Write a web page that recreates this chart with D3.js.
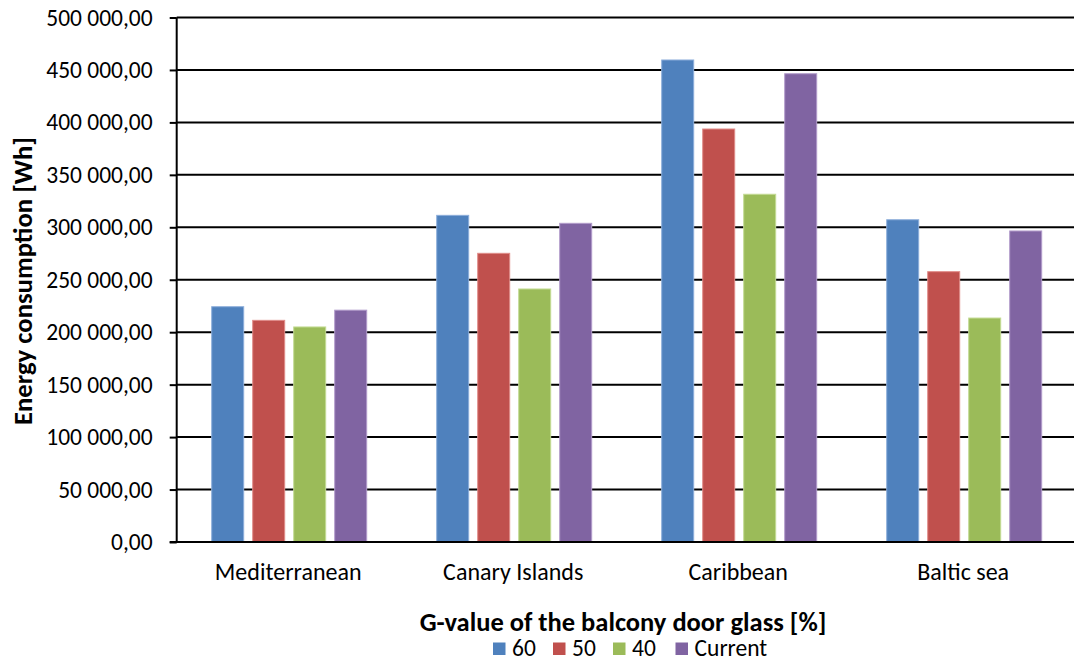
<!DOCTYPE html>
<html>
<head>
<meta charset="utf-8">
<script src="https://cdn.jsdelivr.net/npm/d3@7"></script>
<style>
  body { margin: 0; background: #fff; }
  text { font-family: Calibri, Carlito, "Open Sans", sans-serif; fill: #000; }
</style>
</head>
<body>
<div id="main"></div>
<script>
// data
var categories = ["Mediterranean", "Canary Islands", "Caribbean", "Baltic sea"];
var series = ["60", "50", "40", "Current"];
var values_60 = [224300, 311400, 459500, 307200];
var values_50 = [211300, 275200, 393700, 257700];
var values_40 = [205000, 241200, 331500, 213500];
var values_current = [221000, 303800, 446400, 296500];
var yTicks = [0, 50000, 100000, 150000, 200000, 250000, 300000, 350000, 400000, 450000, 500000];
var colors = ["#4F81BD", "#C0504D", "#9BBB59", "#8064A2"];
var borders = ["#8DAEDB", "#E08C89", "#C4DB94", "#B29CCB"];

var allValues = [values_60, values_50, values_40, values_current];

// dimensions
var svg_width = 1074,
    svg_height = 661;
var margin = {top: 17.5, left: 176.7};
var graph_width = 900,
    graph_height = 524.5;

var svg = d3.select("#main").append("svg")
    .attr("width", svg_width)
    .attr("height", svg_height);

var g = svg.append("g")
    .attr("transform", "translate(" + margin.left + "," + margin.top + ")");

// scales
var x0 = d3.scaleBand().domain(categories).range([0, graph_width]);
var x1 = d3.scaleBand().domain(series).range([35, 190]).paddingInner(9 / 41);
var yScale = d3.scaleLinear().domain([0, 500000]).range([graph_height, 0]);

var locale = d3.formatLocale({decimal: ",", thousands: "\u00a0", grouping: [3], currency: ["", ""]});
var fmt = locale.format(",.2f");

// gridlines
g.selectAll(".grid")
    .data(yTicks.slice(1))
    .enter().append("line")
    .attr("x1", 0).attr("x2", graph_width)
    .attr("y1", function(d) { return yScale(d); })
    .attr("y2", function(d) { return yScale(d); })
    .attr("stroke", "#000").attr("stroke-width", 2);

// y axis
var yAxis = g.append("g")
    .call(d3.axisLeft(yScale).tickValues(yTicks).tickFormat(fmt).tickSize(7).tickPadding(17));
yAxis.select(".domain").attr("stroke-width", 2).attr("d", "M0," + graph_height + "V0");
yAxis.selectAll(".tick line").attr("stroke-width", 2);
yAxis.selectAll(".tick text").attr("font-size", "23.5px").attr("font-family", "Calibri, Carlito, 'Open Sans', sans-serif");

// bars
var groups = g.selectAll(".cat")
    .data(categories)
    .enter().append("g")
    .attr("transform", function(d) { return "translate(" + x0(d) + ",0)"; });

groups.selectAll("rect")
    .data(function(d, i) {
        return series.map(function(s, j) { return {s: s, j: j, v: allValues[j][i]}; });
    })
    .enter().append("rect")
    .attr("x", function(d) { return x1(d.s); })
    .attr("width", x1.bandwidth())
    .attr("y", function(d) { return yScale(d.v); })
    .attr("height", function(d) { return graph_height - yScale(d.v); })
    .attr("fill", function(d) { return colors[d.j]; })
    .attr("stroke", function(d) { return borders[d.j]; })
    .attr("stroke-width", 1);

// x axis line
g.append("line")
    .attr("x1", -7).attr("x2", graph_width)
    .attr("y1", graph_height).attr("y2", graph_height)
    .attr("stroke", "#000").attr("stroke-width", 2);

// category labels
g.selectAll(".cat-label")
    .data(categories)
    .enter().append("text")
    .attr("x", function(d) { return x0(d) + x0.bandwidth() / 2 - 1; })
    .attr("y", graph_height + 38)
    .attr("text-anchor", "middle")
    .attr("font-size", "24px")
    .text(function(d) { return d; });

// axis titles
svg.append("text")
    .attr("transform", "translate(32,281) rotate(-90)")
    .attr("text-anchor", "middle")
    .attr("font-size", "26.7px")
    .attr("font-weight", "bold")
    .text("Energy consumption [Wh]");

svg.append("text")
    .attr("x", 623).attr("y", 631)
    .attr("text-anchor", "middle")
    .attr("font-size", "26.5px")
    .attr("font-weight", "bold")
    .text("G-value of the balcony door glass [%]");

// legend
var legendX = [493, 553, 613, 675.5];
var legend = svg.selectAll(".legend")
    .data(series)
    .enter().append("g")
    .attr("transform", function(d, i) { return "translate(" + legendX[i] + ",642.5)"; });
legend.append("rect")
    .attr("width", 12.5).attr("height", 12.5)
    .attr("fill", function(d, i) { return colors[i]; });
legend.append("text")
    .attr("x", 19).attr("y", 13.5)
    .attr("font-size", "23.5px")
    .text(function(d) { return d; });
</script>
</body>
</html>
